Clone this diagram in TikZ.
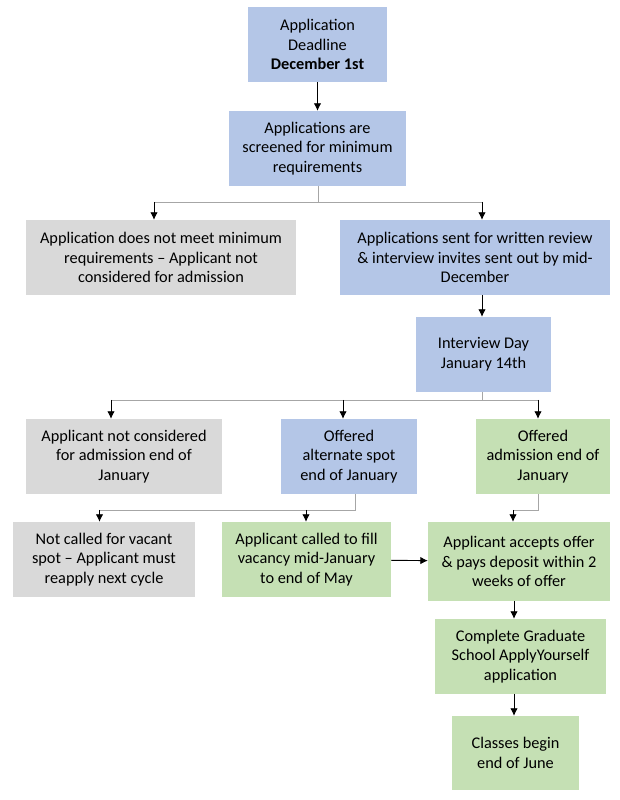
\documentclass[tikz,border=0pt]{standalone}
\usepackage{fontspec}
\setmainfont{Carlito}
\usetikzlibrary{arrows.meta}
\definecolor{boxblue}{RGB}{180,198,231}
\definecolor{boxgray}{RGB}{217,217,217}
\definecolor{boxgreen}{RGB}{197,224,180}
\definecolor{linegray}{RGB}{166,166,166}
\newcommand\stepnode[5]{
  % #1 name, #2 colour, #3 centre, #4 width, #5 text
  \node[fill=#2, minimum width=#4pt, minimum height=75pt, inner sep=0pt,
        align=center, font=\fontsize{16.3}{19.8}\selectfont] (#1) at (#3) {#5};
}
\begin{document}
\begin{tikzpicture}[x=1pt, y=1pt,
  trunk/.style={linegray, line width=0.9pt},
  arr/.style={black, line width=0.9pt, -{Latex[length=7.5pt,width=7.5pt]}}]
\useasboundingbox (0,0) rectangle (619,800);

\stepnode{deadline}{boxblue}{317.5,755.5}{139}{Application\\Deadline\\\textbf{December 1st}}
\stepnode{screen}{boxblue}{317.5,651.5}{177}{Applications are\\screened for minimum\\requirements}
\stepnode{notmeet}{boxgray}{161,542.5}{270}{Application does not meet minimum\\requirements -- Applicant not\\considered for admission}
\stepnode{review}{boxblue}{475,542.5}{270}{Applications sent for written review\\\& interview invites sent out by mid-\\December}
\stepnode{interview}{boxblue}{483.5,445.5}{135}{Interview Day\\January 14th}
\stepnode{notconsidered}{boxgray}{124,343.5}{196}{Applicant not considered\\for admission end of\\January}
\stepnode{alternate}{boxblue}{349,343.5}{136}{Offered\\alternate spot\\end of January}
\stepnode{admission}{boxgreen}{543,343.5}{134}{Offered\\admission end of\\January}
\stepnode{notcalled}{boxgray}{104,240.5}{182}{Not called for vacant\\spot -- Applicant must\\reapply next cycle}
\stepnode{called}{boxgreen}{306.5,240.5}{169}{Applicant called to fill\\vacancy mid-January\\to end of May}
\node[fill=boxgreen, minimum width=182pt, minimum height=79pt, inner sep=0pt,
      align=center, font=\fontsize{16.3}{19.8}\selectfont] (accepts) at (519,238.5)
      {Applicant accepts offer\\\& pays deposit within 2\\weeks of offer};
\stepnode{apply}{boxgreen}{520.5,143.5}{171}{Complete Graduate\\School ApplyYourself\\application}
\node[fill=boxgreen, minimum width=127pt, minimum height=74pt, inner sep=0pt,
      align=center, font=\fontsize{16.3}{19.8}\selectfont] (classes) at (515.5,47)
      {Classes begin\\end of June};

% junctions
\coordinate (sMid) at (318,598);
\coordinate (sLeft) at (154,598);
\coordinate (sRight) at (482,598);
\coordinate (rOut) at (482,505);
\coordinate (iMid) at (482,400);
\coordinate (iLeft) at (111,400);
\coordinate (iCentre) at (343,400);
\coordinate (iRight) at (538,400);
\coordinate (aMid) at (355,290);
\coordinate (aLeft) at (99.5,290);
\coordinate (aRight) at (306,290);
\coordinate (oMid) at (538,290);
\coordinate (oLeft) at (513,290);
\coordinate (cOut) at (514,199);
\coordinate (pOut) at (514,106);

\draw[arr] (deadline) -- (screen);

\draw[trunk] (screen.south -| sMid) -- (sMid);
\draw[trunk] (sLeft) -- (sRight);
\draw[arr] (sLeft) -- (sLeft |- notmeet.north);
\draw[arr] (sRight) -- (sRight |- review.north);

\draw[arr] (rOut) -- (rOut |- interview.north);

\draw[trunk] (interview.south -| iMid) -- (iMid);
\draw[trunk] (iLeft) -- (iRight);
\draw[arr] (iLeft) -- (iLeft |- notconsidered.north);
\draw[arr] (iCentre) -- (iCentre |- alternate.north);
\draw[arr] (iRight) -- (iRight |- admission.north);

\draw[trunk] (alternate.south -| aMid) -- (aMid) -- (aLeft);
\draw[arr] (aLeft) -- (aLeft |- notcalled.north);
\draw[arr] (aRight) -- (aRight |- called.north);

\draw[trunk] (admission.south -| oMid) -- (oMid) -- (oLeft);
\draw[arr] (oLeft) -- (oLeft |- accepts.north);

\draw[arr] (called) -- (accepts);
\draw[arr] (cOut) -- (cOut |- apply.north);
\draw[arr] (pOut) -- (pOut |- classes.north);
\end{tikzpicture}
\end{document}
